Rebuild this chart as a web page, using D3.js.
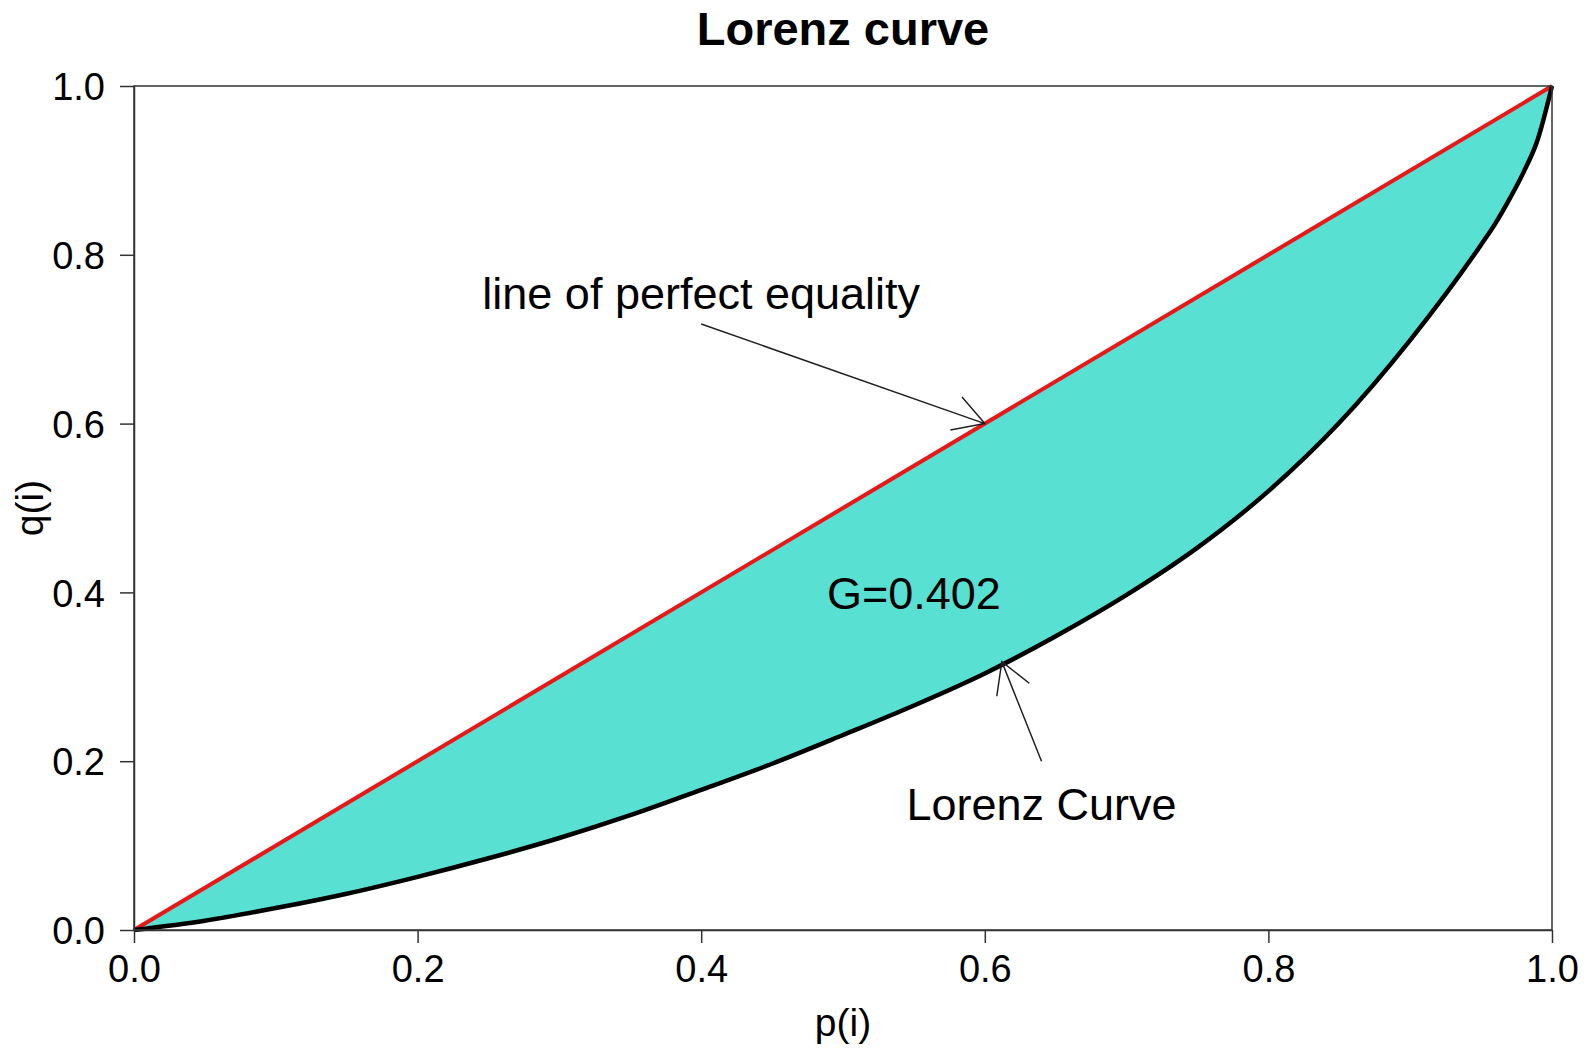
<!DOCTYPE html>
<html>
<head>
<meta charset="utf-8">
<script src="https://cdn.jsdelivr.net/npm/d3@7"></script>
<style>
  body { margin: 0; background: #fff; }
  svg text { font-family: "Liberation Sans", Arial, Helvetica, sans-serif; }
</style>
</head>
<body>
<div id="chart"></div>
<script>
// cumulative share of population (p) and of income (q)
const pShare = [0, 0.05, 0.1, 0.15, 0.2, 0.25, 0.3, 0.35, 0.4, 0.45, 0.5, 0.55, 0.6, 0.65, 0.7, 0.75, 0.8, 0.85, 0.9, 0.95, 0.96, 0.97, 0.98, 0.99, 1];
const qShare = [0, 0.011, 0.026, 0.043, 0.063, 0.085, 0.109, 0.136, 0.166, 0.197, 0.231, 0.266, 0.304, 0.348, 0.397, 0.453, 0.520, 0.601, 0.699, 0.812, 0.837, 0.866, 0.898, 0.937, 1];
const equality = [0, 1];
const tickValues = [0, 0.2, 0.4, 0.6, 0.8, 1.0];
const giniLabel = "G=0.402";

const width = 1586, height = 1051;
const margin = {top: 86, right: 34, bottom: 121, left: 134};
const innerW = width - margin.left - margin.right;
const innerH = height - margin.top - margin.bottom;

const svg = d3.select("#chart").append("svg")
    .attr("width", width)
    .attr("height", height);

const g = svg.append("g")
    .attr("transform", `translate(${margin.left},${margin.top})`);

const x = d3.scaleLinear().domain([0, 1]).range([0, innerW]);
const y = d3.scaleLinear().domain([0, 1]).range([innerH, 0]);

const lorenz = pShare.map((p, i) => ({p: p, q: qShare[i]}));

// shaded area between equality line and the curve
const area = d3.area()
    .x(d => x(d.p))
    .y0(d => y(d.p))
    .y1(d => y(d.q))
    .curve(d3.curveMonotoneX);

g.append("path")
    .datum(lorenz)
    .attr("d", area)
    .attr("fill", "#58e1d3");

// line of perfect equality
g.append("path")
    .datum(equality)
    .attr("d", d3.line().x(d => x(d)).y(d => y(d)))
    .attr("fill", "none")
    .attr("stroke", "#e81818")
    .attr("stroke-width", 4);

// lorenz curve
g.append("path")
    .datum(lorenz)
    .attr("d", d3.line().x(d => x(d.p)).y(d => y(d.q)).curve(d3.curveMonotoneX))
    .attr("fill", "none")
    .attr("stroke", "#000")
    .attr("stroke-width", 4.5);

// annotations with R-style open arrows
function arrow(x0, y0, x1, y1) {
    const ax0 = x(x0), ay0 = y(y0), ax1 = x(x1), ay1 = y(y1);
    const ang = Math.atan2(ay1 - ay0, ax1 - ax0);
    const len = 35, spread = Math.PI / 6;
    const path = d3.path();
    path.moveTo(ax0, ay0);
    path.lineTo(ax1, ay1);
    path.moveTo(ax1 - len * Math.cos(ang - spread), ay1 - len * Math.sin(ang - spread));
    path.lineTo(ax1, ay1);
    path.lineTo(ax1 - len * Math.cos(ang + spread), ay1 - len * Math.sin(ang + spread));
    g.append("path")
        .attr("d", path.toString())
        .attr("fill", "none")
        .attr("stroke", "#222")
        .attr("stroke-width", 1.5);
}

arrow(0.4, 0.718, 0.6, 0.6);
arrow(0.64, 0.2, 0.612, 0.318);

function label(px, py, txt) {
    g.append("text")
        .attr("x", x(px))
        .attr("y", y(py))
        .attr("dy", "0.36em")
        .attr("text-anchor", "middle")
        .style("font-size", "45px")
        .text(txt);
}
label(0.4, 0.755, "line of perfect equality");
label(0.55, 0.4, giniLabel);
label(0.64, 0.15, "Lorenz Curve");

// axes
const fmt = d3.format(".1f");
const xAxis = g.append("g")
    .attr("transform", `translate(0,${innerH})`)
    .call(d3.axisBottom(x).tickValues(tickValues).tickFormat(fmt).tickSize(13).tickSizeOuter(0).tickPadding(12));
const yAxis = g.append("g")
    .call(d3.axisLeft(y).tickValues(tickValues).tickFormat(fmt).tickSize(14).tickSizeOuter(0).tickPadding(15));

[xAxis, yAxis].forEach(a => {
    a.selectAll("path, line").attr("stroke", "#333").attr("stroke-width", 1.5);
    a.selectAll("text")
        .attr("fill", "#000")
        .style("font-size", "38px")
        .style("font-family", "'Liberation Sans', Arial, Helvetica, sans-serif");
});
yAxis.selectAll("text").attr("dy", "0.36em");

// box
g.append("rect")
    .attr("width", innerW)
    .attr("height", innerH)
    .attr("fill", "none")
    .attr("stroke", "#333")
    .attr("stroke-width", 1.5);

// titles
svg.append("text")
    .attr("x", margin.left + innerW / 2)
    .attr("y", 45)
    .attr("text-anchor", "middle")
    .style("font-size", "47px")
    .style("font-weight", "bold")
    .text("Lorenz curve");

svg.append("text")
    .attr("x", margin.left + innerW / 2)
    .attr("y", 1036)
    .attr("text-anchor", "middle")
    .style("font-size", "39px")
    .text("p(i)");

svg.append("text")
    .attr("transform", `translate(43,${margin.top + innerH / 2}) rotate(-90)`)
    .attr("text-anchor", "middle")
    .style("font-size", "39px")
    .text("q(i)");
</script>
</body>
</html>
